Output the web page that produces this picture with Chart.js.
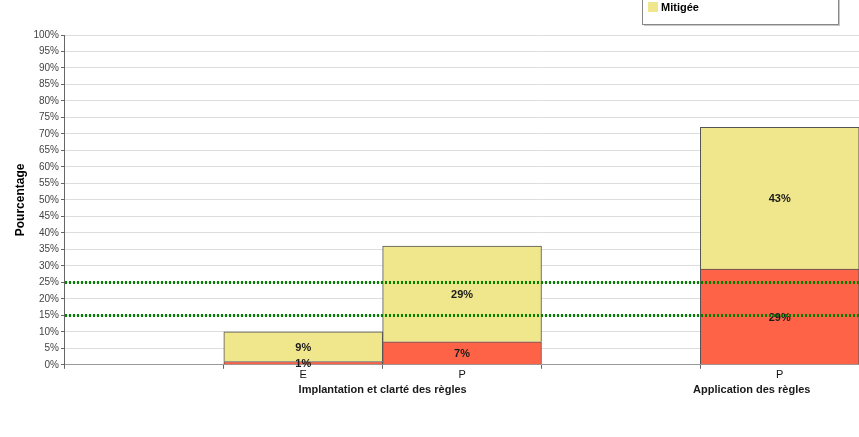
<!DOCTYPE html>
<html><head><meta charset="utf-8">
<script src="https://cdn.jsdelivr.net/npm/chart.js@4/dist/chart.umd.min.js"></script>
<style>
html,body{margin:0;padding:0;background:#fff;overflow:hidden;width:859px;height:437px;}
#wrap{position:absolute;left:0;top:0;width:1018px;height:437px;}
</style></head>
<body><div id="wrap"><canvas id="c" width="1018" height="437"></canvas></div>
<script>
const categories = ['', 'E', 'P', '', 'P', ''];
const faibleValues = [null, 1, 7, null, 29, null];
const mitigeeValues = [null, 9, 29, null, 43, null];
const seriesLabels = ['Faible', 'Mitigée'];
const groupLabels = ['Implantation et clarté des règles', 'Application des règles'];
const groupFrom = [1, 4];
const groupTo = [2, 4];
const thresholdValues = [25, 15];
const yMin = 0, yMax = 100, yStep = 5;

const FONT = "'Liberation Sans', Arial, sans-serif";
const colors = ['#FF6347', '#F0E68C'];

const extras = {
  id: 'extras',
  afterDatasetDraw(chart, args) {
    const ctx = chart.ctx;
    const meta = chart.getDatasetMeta(args.index);
    const ds = chart.data.datasets[args.index];
    ctx.save();
    ctx.font = 'bold 11px ' + FONT;
    ctx.fillStyle = '#1a1a1a';
    ctx.textAlign = 'center';
    ctx.textBaseline = 'middle';
    meta.data.forEach((bar, i) => {
      const v = ds.data[i];
      if (v == null) return;
      const p = bar.getProps(['x', 'y', 'base'], true);
      ctx.fillText(v + '%', p.x, (p.y + p.base) / 2 + 1);
    });
    ctx.restore();
  },
  afterDatasetsDraw(chart) {
    const ctx = chart.ctx;
    const ya = chart.scales.y, xa = chart.scales.x, area = chart.chartArea;
    ctx.save();
    ctx.strokeStyle = '#008000';
    ctx.lineWidth = 3;
    ctx.setLineDash([2, 2]);
    thresholdValues.forEach(t => {
      const y = Math.round(ya.getPixelForValue(t)) + 0.5;
      ctx.beginPath();
      ctx.moveTo(area.left, y);
      ctx.lineTo(area.right, y);
      ctx.stroke();
    });
    ctx.setLineDash([]);
    // group labels
    ctx.font = 'bold 11px ' + FONT;
    ctx.fillStyle = '#1a1a1a';
    ctx.textAlign = 'center';
    ctx.textBaseline = 'middle';
    const shifts = [0, -28];
    groupLabels.forEach((g, k) => {
      const a = xa.getPixelForValue(groupFrom[k]);
      const b = xa.getPixelForValue(groupTo[k]);
      ctx.fillText(g, (a + b) / 2 + shifts[k], area.bottom + 25);
    });
    // legend box
    const lx = 642, ly = -20, lw = 196, lh = 44;
    ctx.fillStyle = '#c8c8c8';
    ctx.fillRect(lx + 2, ly + 2, lw, lh);
    ctx.fillStyle = '#fff';
    ctx.fillRect(lx, ly, lw, lh);
    ctx.strokeStyle = '#888';
    ctx.lineWidth = 1;
    ctx.strokeRect(lx + 0.5, ly + 0.5, lw, lh);
    ctx.textAlign = 'left';
    chart.data.datasets.forEach((ds, k) => {
      const yy = -10 + k * 17;
      ctx.fillStyle = ds.backgroundColor;
      ctx.fillRect(lx + 6, yy - 5, 10, 10);
      ctx.fillStyle = '#000';
      ctx.fillText(ds.label, lx + 19, yy + 1);
    });
    ctx.restore();
  }
};

new Chart(document.getElementById('c'), {
  type: 'bar',
  data: {
    labels: categories,
    datasets: seriesLabels.map((lab, k) => ({
      label: lab,
      data: k === 0 ? faibleValues : mitigeeValues,
      backgroundColor: colors[k],
      borderColor: '#555',
      borderWidth: 1,
      barPercentage: 1,
      categoryPercentage: 1
    }))
  },
  options: {
    responsive: false,
    animation: false,
    layout: { padding: { left: 13, top: 35, right: 0, bottom: 55 } },
    plugins: { legend: { display: false }, tooltip: { enabled: false } },
    scales: {
      x: {
        stacked: true,
        grid: { display: true, drawOnChartArea: false, offset: true, tickLength: 4, color: '#666' },
        border: { color: '#999' },
        ticks: { font: { family: FONT, size: 11 }, color: '#111', padding: 0 }
      },
      y: {
        stacked: true,
        min: yMin, max: yMax,
        ticks: { stepSize: yStep, callback: v => v + '%', font: { family: FONT, size: 10 }, color: '#444', padding: 2 },
        grid: { color: '#dddddd', tickLength: 4, tickColor: '#666' },
        border: { color: '#666' },
        title: { display: true, text: 'Pourcentage', font: { family: FONT, size: 12, weight: 'bold' }, color: '#000', padding: { top: 0, bottom: 4 } }
      }
    }
  },
  plugins: [extras]
});
</script></body></html>
